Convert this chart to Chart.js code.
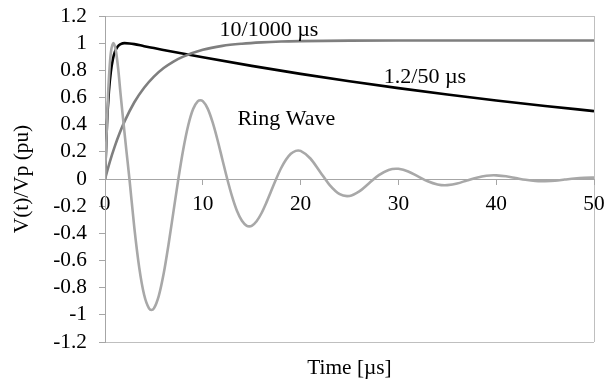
<!DOCTYPE html>
<html>
<head>
<meta charset="utf-8">
<script src="https://cdn.jsdelivr.net/npm/chart.js@4.4.0/dist/chart.umd.min.js"></script>
<style>
html,body{margin:0;padding:0;background:#ffffff;}
#wrap{width:606px;height:383px;position:relative;}
</style>
</head>
<body>
<div id="wrap"><canvas id="c" width="606" height="383"></canvas></div>
<script>
// ---- data ----
const seriesNames = ['1.2/50 µs', '10/1000 µs', 'Ring Wave'];

const tImpulse = [0, 0.2, 0.4, 0.6, 0.8, 1, 1.3, 1.6, 2, 2.5, 3, 4, 5, 7.5, 10, 15, 20, 25, 30, 35, 40, 45, 50];
const vImpulse = [0, 0.40, 0.645, 0.79, 0.88, 0.934, 0.976, 0.993, 1.0, 0.998, 0.993, 0.978, 0.964, 0.929, 0.896, 0.833, 0.774, 0.72, 0.669, 0.622, 0.578, 0.538, 0.5];

const tLong = [0, 0.5, 1, 1.5, 2, 3, 4, 5, 6, 7, 8, 10, 12, 14, 16, 18, 20, 25, 30, 40, 50];
const vLong = [0, 0.128, 0.24, 0.338, 0.424, 0.565, 0.672, 0.754, 0.817, 0.865, 0.901, 0.951, 0.98, 0.996, 1.006, 1.012, 1.015, 1.019, 1.02, 1.02, 1.02];

const tRing = [0, 0.15, 0.3, 0.45, 0.6, 0.85, 1.1, 1.35, 1.6, 1.85, 2.2, 2.5, 3, 3.5, 4, 4.5, 4.75, 5, 5.5, 6, 6.5, 7, 7.5, 8, 8.5, 9, 9.5, 9.75, 10, 10.5, 11, 11.5, 12, 12.5, 13, 13.5, 14, 14.5, 14.75, 15, 15.5, 16, 16.5, 17, 17.5, 18, 18.5, 19, 19.5, 19.75, 20, 21, 22, 23, 24, 24.75, 25, 26, 27, 28, 29, 29.75, 30, 31, 32, 33, 34, 34.75, 35, 36, 37, 38, 39, 39.75, 40, 41, 42, 43, 44, 44.75, 45, 46, 47, 48, 49, 49.75, 50];
const vRing = [0, 0.3, 0.6, 0.8, 0.93, 1.0, 0.95, 0.81, 0.62, 0.44, 0.2, 0, -0.36, -0.652, -0.852, -0.952, -0.964, -0.952, -0.86, -0.696, -0.48, -0.24, 0, 0.217, 0.392, 0.513, 0.573, 0.58, 0.573, 0.518, 0.418, 0.289, 0.144, 0, -0.13, -0.236, -0.308, -0.345, -0.349, -0.345, -0.311, -0.252, -0.174, -0.087, 0, 0.079, 0.142, 0.186, 0.207, 0.21, 0.207, 0.151, 0.052, -0.047, -0.112, -0.126, -0.125, -0.091, -0.031, 0.028, 0.067, 0.076, 0.075, 0.055, 0.019, -0.017, -0.04, -0.046, -0.045, -0.033, -0.011, 0.01, 0.024, 0.0275, 0.027, 0.02, 0.007, -0.006, -0.015, -0.0165, -0.016, -0.012, -0.004, 0.004, 0.009, 0.0099, 0.0098];

const xTicks = [0, 10, 20, 30, 40, 50];
const xTickLabels = ['0', '10', '20', '30', '40', '50'];
const yTicks = [-1.2, -1, -0.8, -0.6, -0.4, -0.2, 0, 0.2, 0.4, 0.6, 0.8, 1, 1.2];
const yTickLabels = ['-1.2', '-1', '-0.8', '-0.6', '-0.4', '-0.2', '0', '0.2', '0.4', '0.6', '0.8', '1', '1.2'];

const xTitle = 'Time [µs]';
const yTitle = 'V(t)/Vp (pu)';

// ---- chart ----
const FONT = 'Liberation Serif';
const pts = (ts, vs) => ts.map((t, i) => ({x: t, y: vs[i]}));

const labelPlugin = {
  id: 'curveLabels',
  afterDatasetsDraw(chart, args, opts) {
    const {ctx, scales} = chart;
    ctx.save();
    ctx.font = opts.font;
    ctx.fillStyle = opts.color;
    ctx.textAlign = 'center';
    ctx.textBaseline = 'alphabetic';
    opts.items.forEach(it => {
      ctx.fillText(it.text, scales.x.getPixelForValue(it.x), scales.y.getPixelForValue(it.y));
    });
    ctx.restore();
  }
};

const tickFont = {family: FONT, size: 21.33};
const noPad = s => { s.paddingTop = 0; s.paddingBottom = 0; s.paddingLeft = 0; s.paddingRight = 0; };

new Chart(document.getElementById('c'), {
  type: 'line',
  data: {
    datasets: [
      {label: seriesNames[2], data: pts(tRing, vRing), borderColor: '#a8a8a8', borderWidth: 2.6, pointRadius: 0, cubicInterpolationMode: 'monotone', order: 0},
      {label: seriesNames[1], data: pts(tLong, vLong), borderColor: '#7f7f7f', borderWidth: 2.6, pointRadius: 0, cubicInterpolationMode: 'monotone', order: 1},
      {label: seriesNames[0], data: pts(tImpulse, vImpulse), borderColor: '#000000', borderWidth: 2.6, pointRadius: 0, cubicInterpolationMode: 'monotone', order: 2}
    ]
  },
  options: {
    responsive: false,
    devicePixelRatio: 1,
    animation: false,
    layout: {padding: {left: 0, right: 12, top: 16, bottom: 0}},
    plugins: {
      legend: {display: false},
      tooltip: {enabled: false},
      title: {
        display: true, position: 'bottom', fullSize: false, text: xTitle,
        color: '#000', font: {family: FONT, size: 21.33, weight: 'normal'},
        padding: {top: 13.8, bottom: 1.6}
      },
      curveLabels: {
        font: '22px "Liberation Serif"', color: '#000',
        items: [
          {text: seriesNames[1], x: 16.77, y: 1.053},
          {text: seriesNames[0], x: 32.72, y: 0.705},
          {text: seriesNames[2], x: 18.54, y: 0.398}
        ]
      }
    },
    scales: {
      x: {
        type: 'linear', position: {y: 0}, min: 0, max: 50,
        afterBuildTicks: s => { s.ticks = xTicks.map(v => ({value: v})); },
        afterFit: noPad,
        ticks: {font: tickFont, color: '#000', padding: 7.4, maxRotation: 0, autoSkip: false,
          callback: (v, i) => xTickLabels[i]},
        grid: {
          color: c => (c.tick && c.tick.value === 50) ? '#bfbfbf' : 'rgba(0,0,0,0)',
          tickColor: '#a6a6a6', tickLength: 5, lineWidth: 1
        },
        border: {color: '#a6a6a6', width: 1}
      },
      y: {
        type: 'linear', position: 'left', min: -1.2, max: 1.2,
        afterBuildTicks: s => { s.ticks = yTicks.map(v => ({value: v})); },
        afterFit: s => { s.width = 105; noPad(s); },
        ticks: {font: tickFont, color: '#000', padding: 12, autoSkip: false,
          callback: (v, i) => yTickLabels[i]},
        grid: {
          color: c => (c.tick && Math.abs(Math.abs(c.tick.value) - 1.2) < 1e-6) ? '#bfbfbf' : 'rgba(0,0,0,0)',
          tickColor: '#a6a6a6', tickLength: 6, lineWidth: 1
        },
        border: {color: '#a6a6a6', width: 1},
        title: {display: true, text: yTitle, color: '#000', font: {family: FONT, size: 21.33}, padding: {top: 10, bottom: 0}}
      }
    }
  },
  plugins: [labelPlugin]
});
</script>
</body>
</html>
